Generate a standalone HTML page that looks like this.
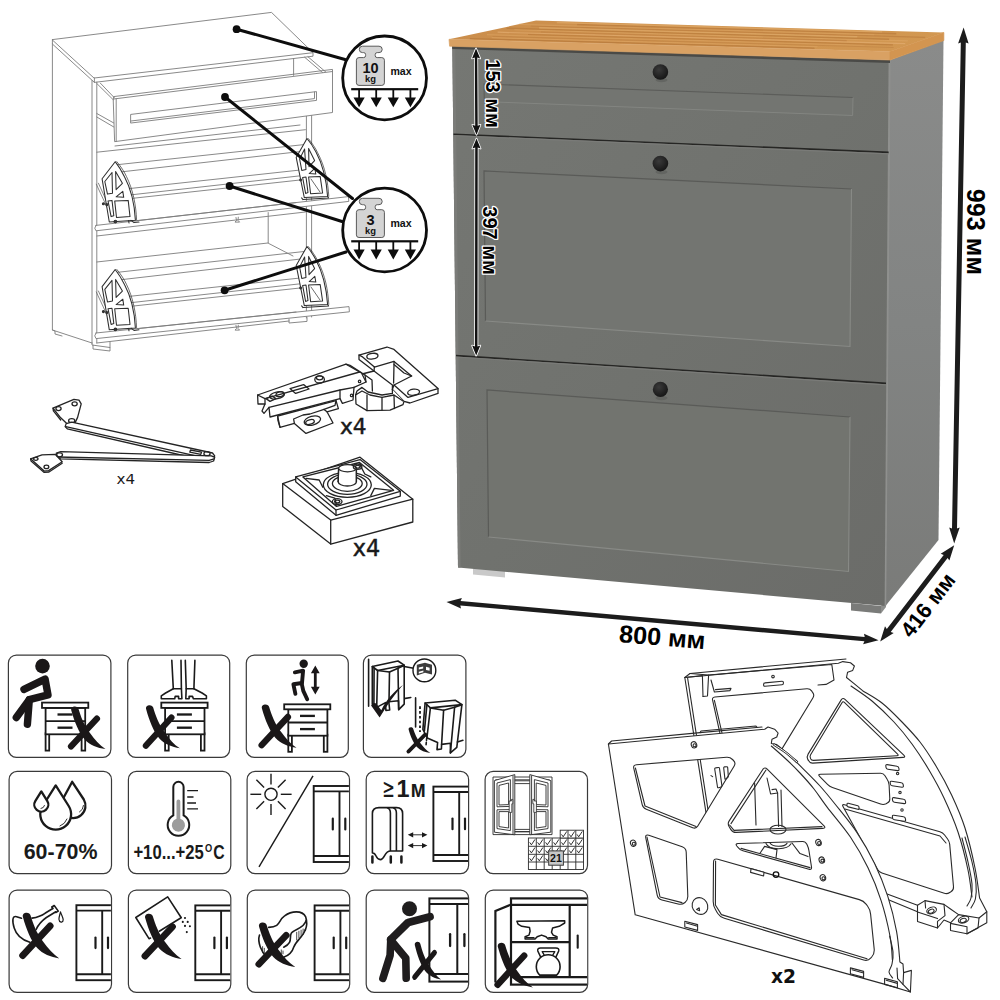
<!DOCTYPE html>
<html lang="ru"><head><meta charset="utf-8"><title>Обувница — размеры и рекомендации</title>
<style>
html,body{margin:0;padding:0;background:#fff;}
body{width:1000px;height:1000px;overflow:hidden;font-family:"Liberation Sans",sans-serif;}
svg{display:block}
.b{font-family:"Liberation Sans",sans-serif;font-weight:bold}
.dim{font-family:"Liberation Sans",sans-serif;font-weight:bold;fill:#000;stroke:#fff;stroke-width:2.6px;paint-order:stroke fill;stroke-linejoin:round}
.ln{fill:none;stroke:#7c7c7c;stroke-width:0.9;stroke-linejoin:round;stroke-linecap:round}
.ld{fill:none;stroke:#242424;stroke-width:1.3;stroke-linejoin:round;stroke-linecap:round}
.lw{fill:#fff;stroke:#242424;stroke-width:1.3;stroke-linejoin:round;stroke-linecap:round}
.ic{fill:none;stroke:#1a1a1a;stroke-width:1.6;stroke-linejoin:round;stroke-linecap:round}
.box{fill:#fff;stroke:#3a3a3a;stroke-width:1.2}
.k{fill:#1a1a1a}
</style></head><body>
<svg width="1000" height="1000" viewBox="0 0 1000 1000">
<rect width="1000" height="1000" fill="#fff"/>
<defs>
<linearGradient id="gFront" x1="0" y1="0" x2="1" y2="1">
<stop offset="0" stop-color="#757773"/><stop offset="0.5" stop-color="#70726e"/><stop offset="1" stop-color="#6b6c69"/>
</linearGradient>
<linearGradient id="gSide" x1="0" y1="0" x2="0" y2="1">
<stop offset="0" stop-color="#8a8b8a"/><stop offset="0.5" stop-color="#828483"/><stop offset="1" stop-color="#7a7b79"/>
</linearGradient>
<linearGradient id="gWood" x1="0" y1="0" x2="1" y2="0">
<stop offset="0" stop-color="#cb8e4c"/><stop offset="0.5" stop-color="#cf934f"/><stop offset="1" stop-color="#d29852"/>
</linearGradient>
<radialGradient id="gKnob" cx="0.4" cy="0.35" r="0.7">
<stop offset="0" stop-color="#3a3a3a"/><stop offset="1" stop-color="#141414"/>
</radialGradient>
</defs>
<g id="cabinet">
<!-- feet -->
<polygon points="473,568 505,571 505,577.5 473,574.5" fill="#c9c9c9"/>
<polygon points="851,603 881,606 881,613.5 851,610.5" fill="#7a7b79"/>
<polygon points="881,606 886,600 886,607 881,613.5" fill="#8d8e8c"/>
<!-- side face -->
<polygon points="890,60 943.5,40 938.5,540 885.5,606" fill="url(#gSide)"/>
<!-- front face -->
<polygon points="452.3,46 890,60 885.5,606 458,567.5" fill="url(#gFront)"/>
<!-- left light edge strip -->
<polygon points="452.3,46 455.3,46.1 460.6,567.7 458,567.5" fill="#7b7c79"/>
<!-- right front edge highlight -->
<polygon points="888.6,60 890.6,60 886.2,605.5 884.6,606" fill="#8f908e"/>
<!-- shadow under top -->
<polygon points="452,46 890,60 890,63 452.3,49" fill="#4a4a47"/>
<!-- gaps -->
<polygon points="453.5,133.5 888.6,151.6 888.6,153.2 453.5,135.1" fill="#262624"/>
<polygon points="456,354.8 886,382.6 886,384.2 456,356.4" fill="#262624"/>
<polygon points="453.5,135.1 888.6,153.2 888.6,154.4 453.5,136.3" fill="#7a7b78"/>
<polygon points="456,356.4 886,384.2 886,385.4 456,357.6" fill="#7a7b78"/>
<!-- drawer 1 panel -->
<polygon points="484,84 853,97.5 852.6,115.5 484.3,101.6" fill="#737571"/>
<polyline points="484.3,101.6 484,84 853,97.5" fill="none" stroke="#5c5d5a" stroke-width="1.1"/>
<polyline points="853,97.5 852.6,115.5 484.3,101.6" fill="none" stroke="#838581" stroke-width="1"/>
<!-- flap 2 panel -->
<polygon points="484,171 851.5,189 850,346.5 485.5,321" fill="#737571"/>
<polyline points="485.5,321 484,171 851.5,189" fill="none" stroke="#5a5b58" stroke-width="1.2"/>
<polyline points="851.5,189 850,346.5 485.5,321" fill="none" stroke="#888a86" stroke-width="1.1"/>
<!-- flap 3 panel -->
<polygon points="487,390 850,417 848.5,571.5 488.5,537" fill="#72746f"/>
<polyline points="488.5,537 487,390 850,417" fill="none" stroke="#5a5b58" stroke-width="1.2"/>
<polyline points="850,417 848.5,571.5 488.5,537" fill="none" stroke="#888a86" stroke-width="1.1"/>
<!-- knobs -->
<ellipse cx="661.5" cy="80" rx="6" ry="2.2" fill="#5a5b58" opacity="0.6"/>
<ellipse cx="661.5" cy="172" rx="6" ry="2.2" fill="#5a5b58" opacity="0.6"/>
<ellipse cx="661.5" cy="398" rx="6" ry="2.2" fill="#5a5b58" opacity="0.6"/>
<circle cx="660.4" cy="72" r="7.8" fill="url(#gKnob)"/>
<circle cx="660.4" cy="163.6" r="7.8" fill="url(#gKnob)"/>
<circle cx="660.4" cy="389.4" r="7.6" fill="url(#gKnob)"/>
<!-- wood top -->
<polygon points="449,39.3 536,20.6 943.8,32.5 890,51.5" fill="url(#gWood)"/>
<g fill="none">
<line x1="469.8" y1="38.6" x2="814.5" y2="48.2" stroke="#b5783a" stroke-width="1.4" opacity="0.7"/>
<line x1="491.7" y1="37.7" x2="817.5" y2="46.8" stroke="#e0a868" stroke-width="0.8" opacity="0.7"/>
<line x1="492.6" y1="36.3" x2="893.6" y2="47.5" stroke="#bd7f40" stroke-width="0.8" opacity="0.7"/>
<line x1="486.9" y1="34.7" x2="864.5" y2="45.2" stroke="#d9a05e" stroke-width="1.2" opacity="0.7"/>
<line x1="528.0" y1="34.5" x2="892.9" y2="44.8" stroke="#b97a3a" stroke-width="1.2" opacity="0.7"/>
<line x1="497.6" y1="32.2" x2="905.3" y2="43.7" stroke="#e2ad70" stroke-width="1.2" opacity="0.7"/>
<line x1="541.0" y1="32.0" x2="846.7" y2="40.6" stroke="#c08243" stroke-width="1.2" opacity="0.7"/>
<line x1="514.4" y1="29.7" x2="907.8" y2="40.9" stroke="#dba463" stroke-width="1.2" opacity="0.7"/>
<line x1="506.7" y1="28.2" x2="889.1" y2="39.2" stroke="#b87a3b" stroke-width="1.4" opacity="0.7"/>
<line x1="539.1" y1="27.7" x2="857.2" y2="36.8" stroke="#deaa6a" stroke-width="1.4" opacity="0.7"/>
<line x1="530.9" y1="26.0" x2="925.2" y2="37.3" stroke="#bc7e3f" stroke-width="1.2" opacity="0.7"/>
<line x1="519.0" y1="24.4" x2="874.4" y2="34.6" stroke="#d8a05e" stroke-width="1.2" opacity="0.7"/>
<line x1="577.1" y1="24.5" x2="896.3" y2="33.8" stroke="#b97b3c" stroke-width="1.4" opacity="0.7"/>
<line x1="556.8" y1="22.5" x2="882.2" y2="31.9" stroke="#dfa968" stroke-width="1.4" opacity="0.7"/>
</g>
<polygon points="449,39.3 890,51.5 890,60 449.6,46.2" fill="#d9a163" stroke="#d9a163" stroke-width="0.7"/>
<polygon points="890,51.5 943.8,32.5 943.8,40.5 890,60" fill="#d39550" stroke="#d39550" stroke-width="0.8"/>
</g>

<g id="dims">
<polygon points="963.6,27.5 958.1,43.4 960.8,42.5 952.0,528.5 949.2,527.4 954.2,543.5 959.7,527.6 957.0,528.5 965.8,42.5 968.6,43.6" fill="#1c1c1c" />
<polygon points="954.2,545.3 940.7,553.8 943.7,554.9 886.8,628.9 885.0,626.3 880.2,641.5 893.7,633.0 890.7,631.9 947.6,557.9 949.4,560.5" fill="#1c1c1c" />
<polygon points="446.5,602.0 461.0,608.6 460.3,605.4 864.4,641.3 863.1,644.2 878.5,640.3 864.0,633.7 864.7,636.9 460.6,601.0 461.9,598.1" fill="#1c1c1c" />
<polygon points="476.0,48.4 472.0,58.4 474.8,57.4 475.2,125.8 472.3,124.8 476.5,134.8 480.5,124.8 477.7,125.8 477.3,57.4 480.2,58.4" fill="#111" stroke="#fff" stroke-width="1.6" paint-order="stroke fill" stroke-linejoin="round"/>
<polygon points="476.5,138.6 472.4,148.6 475.2,147.6 475.0,346.6 472.1,345.6 476.2,355.6 480.3,345.6 477.5,346.6 477.7,147.6 480.6,148.6" fill="#111" stroke="#fff" stroke-width="1.6" paint-order="stroke fill" stroke-linejoin="round"/>
<text class="dim" transform="translate(485.6,59.3) rotate(90)" font-size="21" textLength="68.5" lengthAdjust="spacingAndGlyphs">153 мм</text>
<text class="dim" transform="translate(482.9,206.3) rotate(90)" font-size="21" textLength="68.5" lengthAdjust="spacingAndGlyphs">397 мм</text>
<text class="b" transform="translate(967,188.8) rotate(90)" font-size="26.5" fill="#000" textLength="86.2" lengthAdjust="spacingAndGlyphs">993 мм</text>
<text class="b" transform="translate(618.5,642) rotate(4.7)" font-size="24.5" fill="#000" textLength="86.5" lengthAdjust="spacingAndGlyphs">800 мм</text>
<text class="b" transform="translate(911.3,639) rotate(-52.4)" font-size="22" fill="#000" textLength="74" lengthAdjust="spacingAndGlyphs">416 мм</text>
</g>
<g id="linedraw" class="ln">
<!-- top panel -->
<polygon points="52.4,39.6 271.5,12.4 313,52.7 94.4,78" fill="#fff"/>
<polyline points="52.4,39.6 52.4,44 94.4,82.4 313,56.2 313,52.7"/>
<line x1="94.4" y1="78" x2="94.4" y2="82.4"/>
<!-- left side panel -->
<polyline points="52.4,44 52.4,330 92,343"/>
<line x1="92" y1="80.5" x2="92" y2="343"/>
<line x1="96.8" y1="82.2" x2="96.8" y2="343"/>
<!-- left foot / bottom -->
<polyline points="92,343 92,345 110,347.5 110,342"/>
<polyline points="93,345.2 93,349 110,351 110,347.5"/>
<polyline points="52.4,330 55,331 55,334 62,336"/>
<!-- right side panel front edges -->
<line x1="306.4" y1="113" x2="306.4" y2="318"/>
<line x1="311.6" y1="110" x2="311.6" y2="317"/>
<polyline points="289,319 289,323 307,321.4 307,317.5"/>
<!-- inside of drawer opening -->
<polyline points="96.8,83.5 113.5,100"/>
<polyline points="100.4,83.2 114.4,97.8"/>
<line x1="96.8" y1="113.5" x2="113.8" y2="123"/>
<line x1="96.8" y1="117" x2="113.8" y2="127"/>
<line x1="293.6" y1="58.5" x2="293.6" y2="75.4"/>
<polyline points="304.6,57.2 322.8,72.8"/>
<polyline points="308,56.8 326,72.2"/>
<!-- drawer front -->
<polygon points="113.6,99 332.5,71.5 332.5,112.5 115,141.6" fill="#fff"/>
<polyline points="113.6,99 113.6,96.6 332.5,69.4 332.5,71.5"/>
<polyline points="116.2,98.8 116.2,141.3"/>
<polygon points="131,114.4 316.5,91.6 316.5,100.4 131,123"/>
<polyline points="131,121 314.5,98.6 314.5,92"/>
<!-- rails inside upper compartments -->
<line x1="96.8" y1="152.2" x2="305.4" y2="129.7"/>
<line x1="116.4" y1="164.8" x2="304" y2="144.6"/>
<line x1="122" y1="171.8" x2="305" y2="151"/>
<line x1="129" y1="188.6" x2="309.6" y2="169"/>
<line x1="129.8" y1="195" x2="311" y2="174.6"/>
<line x1="131.8" y1="198.4" x2="300" y2="180"/>
<line x1="115" y1="146" x2="300" y2="125"/>
<!-- flap 2 strip -->
<path d="M96,225.4 L348.4,196.6 L348.8,201.4 L96,230.8 Q93.4,228.4 96,225.4 Z" fill="#fff"/>
<line x1="137" y1="220.6" x2="296" y2="202.6"/>
<path d="M236,217.5 l0.5,3 l-1.5,1.6 h4.6 l-1.6,-1.6 l0.3,-3.3"/>
<!-- compartment 3 interior -->
<line x1="96.8" y1="236" x2="305.4" y2="212"/>
<line x1="96.8" y1="262" x2="268" y2="243"/>
<polyline points="268.2,212.6 268.2,243.2 293,256"/>
<line x1="116" y1="272.5" x2="304" y2="251.5"/>
<line x1="122" y1="279.6" x2="305" y2="258.5"/>
<line x1="129" y1="296.4" x2="309.6" y2="277"/>
<line x1="129.8" y1="302.8" x2="311" y2="282.6"/>
<line x1="131.8" y1="306.2" x2="300" y2="288"/>
<!-- flap 3 strip -->
<path d="M96,333 L349,306.6 L349.4,311.8 L96,338.6 Q93.4,336 96,333 Z" fill="#fff"/>
<line x1="137" y1="328.6" x2="296" y2="312"/>
<path d="M236,325.5 l0.5,3 l-1.5,1.6 h4.6 l-1.6,-1.6 l0.3,-3.3"/>
<line x1="96.8" y1="343" x2="289" y2="321"/>
</g>
<!-- flap fittings in line drawing -->
<g id="fit-small" fill="none" stroke="#2e2e2e" stroke-width="1.05" stroke-linejoin="round" stroke-linecap="round">
<g id="fitL">
<path d="M96.3,184.2 L114.2,222.6 M98.4,183.2 L116,221.8" stroke="#6a6a6a" stroke-width="0.8"/>
<path d="M115.2,161.7 L102.1,178.8 L109.3,222 L135.4,220.2 C134.6,205 131.6,190 124.6,177 C122,171.6 118.6,166 115.2,161.7 Z" fill="#fff"/>
<path d="M116.8,161.6 C121,166.6 124.4,172 126.4,176.4 C133,189.6 136,205 136.6,220" stroke-width="0.7"/>
<path d="M104.8,181.5 L112,172.5 L112.5,193.2 L107.5,194.1 Z"/>
<path d="M115.6,171.6 L122.4,183.3 L116.1,189.6 Z"/>
<path d="M122.8,191.4 L123.7,197.3 L116.1,196.8 Z"/>
<path d="M114.7,200.9 L128.2,200.4 L130,216.6 L116.5,217.5 Z"/>
<path d="M108,200.9 L112,200.4 L113.8,215.7 L111.1,216.6 Z"/>
<circle cx="115.4" cy="221.6" r="1.3" fill="#3a3a3a"/><circle cx="103.4" cy="203.8" r="1" fill="#3a3a3a"/><circle cx="106.8" cy="204.6" r="1" fill="#3a3a3a"/>
<path d="M128.6,220.6 l0.4,2.4 M131,220.4 l3,2.2 l5,-0.6"/>
</g>
<use href="#fitL" transform="translate(0,107.8)"/>
<g id="fitR">
<path d="M307,138.5 L296.2,157.4 L304.3,197.6 L327.6,196.4 C326.6,182 324.6,168 316,152 C313.4,147 310.4,142.4 307,138.5 Z" fill="#fff"/>
<path d="M308.4,138.6 C312,143 315.4,148 317.6,152.6 C325.6,168 327.8,182 328.8,196.2" stroke-width="0.7"/>
<path d="M299.6,159 L304.6,149 L306,169.6 L301.8,170.4 Z"/>
<path d="M308.6,148.4 L314.6,160.6 L309,166.6 Z"/>
<path d="M314.8,168.4 L315.8,174 L309.2,173.6 Z"/>
<path d="M308.6,177 L320.2,176.6 L322.6,193 L310.6,193.8 Z"/>
<path d="M302.6,177.4 L306,177 L308,192.6 L305.6,193.4 Z"/>
<path d="M311,179 L320,192" stroke-width="0.7"/>
<path d="M301.6,197.9 L303,199.6 L328.6,198 L327.6,196.4"/>
<circle cx="300.6" cy="180" r="0.9" fill="#3a3a3a"/>
</g>
<use href="#fitR" transform="translate(0,108)"/>
</g>

<g id="loads">
<line x1="236.6" y1="29.2" x2="345" y2="59.5" stroke="#0d0d0d" stroke-width="3" stroke-linecap="round"/><circle cx="236.6" cy="29.2" r="3.9" fill="#0d0d0d"/>
<line x1="225" y1="97" x2="352.5" y2="198.5" stroke="#0d0d0d" stroke-width="3" stroke-linecap="round"/><circle cx="225" cy="97" r="3.9" fill="#0d0d0d"/>
<line x1="229.6" y1="186" x2="342" y2="221.5" stroke="#0d0d0d" stroke-width="3" stroke-linecap="round"/><circle cx="229.6" cy="186" r="3.9" fill="#0d0d0d"/>
<line x1="224.6" y1="290.3" x2="346" y2="252" stroke="#0d0d0d" stroke-width="3" stroke-linecap="round"/><circle cx="224.6" cy="290.3" r="3.9" fill="#0d0d0d"/>
<g transform="translate(0,0.0)">
<circle cx="384.6" cy="77.9" r="41.9" fill="#fff" stroke="#0d0d0d" stroke-width="2.8"/>
<path d="M362.5,46.2 h16.5 a3.2,3.2 0 0 1 0,6.4 h-1.8 a2,2 0 0 0 -2,2 v1 a2,2 0 0 0 2,2 h4.6 a2.6,2.6 0 0 1 2.6,2.6 v22.6 a2.6,2.6 0 0 1 -2.6,2.6 h-22.8 a2.6,2.6 0 0 1 -2.6,-2.6 v-22.6 a2.6,2.6 0 0 1 2.6,-2.6 h4.6 a2,2 0 0 0 2,-2 v-1 a2,2 0 0 0 -2,-2 h-1.1 a3.2,3.2 0 0 1 0,-6.4 z" fill="#d4d4d4" stroke="#5a5a5a" stroke-width="1"/>
<text class="b" x="370.6" y="73.2" font-size="14.5" text-anchor="middle" fill="#111">10</text>
<text class="b" x="370.4" y="81.6" font-size="9.4" text-anchor="middle" fill="#111">kg</text>
<text class="b" x="401" y="74.8" font-size="10.6" text-anchor="middle" fill="#111">max</text>
<rect x="351.2" y="88.1" width="67" height="2.2" fill="#0d0d0d"/>
<path d="M358.20000000000005,89 h1.8 v8.4 h4.7 l-5.6,9.9 l-5.6,-9.9 h4.7 z" fill="#0d0d0d"/>
<path d="M375.3,89 h1.8 v8.4 h4.7 l-5.6,9.9 l-5.6,-9.9 h4.7 z" fill="#0d0d0d"/>
<path d="M392.40000000000003,89 h1.8 v8.4 h4.7 l-5.6,9.9 l-5.6,-9.9 h4.7 z" fill="#0d0d0d"/>
<path d="M409.5,89 h1.8 v8.4 h4.7 l-5.6,9.9 l-5.6,-9.9 h4.7 z" fill="#0d0d0d"/>
</g>
<g transform="translate(0,152.1)">
<circle cx="384.6" cy="77.9" r="41.9" fill="#fff" stroke="#0d0d0d" stroke-width="2.8"/>
<path d="M362.5,46.2 h16.5 a3.2,3.2 0 0 1 0,6.4 h-1.8 a2,2 0 0 0 -2,2 v1 a2,2 0 0 0 2,2 h4.6 a2.6,2.6 0 0 1 2.6,2.6 v22.6 a2.6,2.6 0 0 1 -2.6,2.6 h-22.8 a2.6,2.6 0 0 1 -2.6,-2.6 v-22.6 a2.6,2.6 0 0 1 2.6,-2.6 h4.6 a2,2 0 0 0 2,-2 v-1 a2,2 0 0 0 -2,-2 h-1.1 a3.2,3.2 0 0 1 0,-6.4 z" fill="#d4d4d4" stroke="#5a5a5a" stroke-width="1"/>
<text class="b" x="370.6" y="73.2" font-size="14.5" text-anchor="middle" fill="#111">3</text>
<text class="b" x="370.4" y="81.6" font-size="9.4" text-anchor="middle" fill="#111">kg</text>
<text class="b" x="401" y="74.8" font-size="10.6" text-anchor="middle" fill="#111">max</text>
<rect x="351.2" y="88.1" width="67" height="2.2" fill="#0d0d0d"/>
<path d="M358.20000000000005,89 h1.8 v8.4 h4.7 l-5.6,9.9 l-5.6,-9.9 h4.7 z" fill="#0d0d0d"/>
<path d="M375.3,89 h1.8 v8.4 h4.7 l-5.6,9.9 l-5.6,-9.9 h4.7 z" fill="#0d0d0d"/>
<path d="M392.40000000000003,89 h1.8 v8.4 h4.7 l-5.6,9.9 l-5.6,-9.9 h4.7 z" fill="#0d0d0d"/>
<path d="M409.5,89 h1.8 v8.4 h4.7 l-5.6,9.9 l-5.6,-9.9 h4.7 z" fill="#0d0d0d"/>
</g>
</g>
<g id="icons-row1">
<defs><symbol id="xm" overflow="visible"><path d="M3.1,3.8 C2.3,1 4.6,-0.5 6.8,-0.5 C9,-0.5 10.2,0.6 10.7,2 C13.2,10 16.4,19.6 23.6,28.8 C28,34.8 33,41 39.5,45.1 C31,43.9 22.8,40.6 17.4,34.8 C11.2,27.8 6.3,15.4 3.1,3.8 Z" fill="#1a1718"/><line x1="30.4" y1="12.6" x2="2.8" y2="42.3" stroke="#1a1718" stroke-width="6.7" stroke-linecap="round"/></symbol></defs>
<rect class="box" x="8.4" y="655.1" width="102.5" height="102.2" rx="8" ry="8"/>
<g fill="#fff" stroke="#1a1a1a" stroke-width="1.8" stroke-linejoin="miter"><rect x="45.6" y="733.3" width="3.6" height="17.3"/><rect x="81.6" y="733.3" width="3.6" height="17.3"/><rect x="45.6" y="707.9" width="39.6" height="26.4"/><line x1="45.6" y1="721.1" x2="85.2" y2="721.1"/><rect x="42.0" y="702.6" width="46.3" height="5.3"/><line x1="57.5" y1="714.5" x2="72.5" y2="714.5" stroke-width="2.34"/><line x1="57.5" y1="727.7" x2="72.5" y2="727.7" stroke-width="2.34"/></g>
<g fill="none" stroke="#1a1718" stroke-linecap="round" stroke-linejoin="round">
<circle cx="42.5" cy="666.1" r="7.3" fill="#1a1718" stroke="none"/>
<polyline points="24.0,689.4 45.1,679.1 48.0,694.9 29.3,699.7 16.3,717.5" stroke-width="7.4"/>
<polyline points="29.3,699.7 27.4,724.2" stroke-width="7.4"/>
</g>
<g transform="translate(68.4,706.9) scale(0.938,0.935)"><use href="#xm"/></g>
<rect class="box" x="127.7" y="655.1" width="102" height="102.2" rx="8" ry="8"/>
<g fill="#fff" stroke="#1a1a1a" stroke-width="1.8" stroke-linejoin="miter"><rect x="165.1" y="733.3" width="3.6" height="17.3"/><rect x="200.9" y="733.3" width="3.6" height="17.3"/><rect x="165.1" y="707.9" width="39.4" height="26.4"/><line x1="165.1" y1="721.1" x2="204.5" y2="721.1"/><rect x="161.3" y="702.6" width="46.3" height="5.3"/><line x1="176.9" y1="714.5" x2="191.9" y2="714.5" stroke-width="2.34"/><line x1="176.9" y1="727.7" x2="191.9" y2="727.7" stroke-width="2.34"/></g>
<g class="ic" stroke-width="1.5" fill="#fff">
<path d="M171.8 660.4 L173.3 688.7 L165.6 693.0 L161.3 695.9 L161.3 698.8 L174.7 698.8 L175.2 696.4 L178.6 696.4 L178.6 698.8 L181.9 698.8 L181.4 688.7 L181.0 660.4"/>
<path d="M185.3 660.4 L186.2 688.7 L185.8 698.8 L189.1 698.8 L189.1 696.4 L192.5 696.4 L193.4 698.8 L206.4 698.8 L206.4 695.9 L202.1 693.0 L193.9 688.7 L194.9 660.4"/>
<path d="M173.3 688.7 L181.4 688.7 M186.2 688.7 L193.9 688.7"/>
</g>
<g transform="translate(143.3,705.7) scale(0.925,0.946)"><use href="#xm"/></g>
<rect class="box" x="246.3" y="655.1" width="102" height="102.2" rx="8" ry="8"/>
<g fill="#fff" stroke="#1a1a1a" stroke-width="1.8" stroke-linejoin="miter"><rect x="288.3" y="734.7" width="3.6" height="17.1"/><rect x="323.8" y="734.7" width="3.6" height="17.1"/><rect x="288.3" y="709.3" width="39.1" height="26.4"/><line x1="288.3" y1="722.5" x2="327.4" y2="722.5"/><rect x="284.2" y="704.3" width="46.1" height="5.0"/><line x1="300.0" y1="715.9" x2="314.9" y2="715.9" stroke-width="2.34"/><line x1="300.0" y1="729.1" x2="314.9" y2="729.1" stroke-width="2.34"/></g>
<g fill="none" stroke="#1a1718" stroke-linecap="round" stroke-linejoin="round">
<circle cx="303.7" cy="663.8" r="4.2" fill="#1a1718" stroke="none"/>
<polyline points="294.9,672.3 303.1,670.7 302.0,683.0 293.4,684.3 295.4,693.8" stroke-width="3.9"/>
<polyline points="301.7,683.7 303.3,690.9 307.2,699.3" stroke-width="3.9"/>
</g>
<path d="M315.3,665.4 l4.4,7.8 h-3 v13.6 h3 l-4.4,7.8 l-4.4,-7.8 h3 v-13.6 h-3 z" fill="#1a1718"/>
<g transform="translate(259.0,705.0) scale(0.950,0.950)"><use href="#xm"/></g>
<rect class="box" x="363.4" y="655.1" width="102.5" height="102.2" rx="8" ry="8"/>
<g class="ic" stroke-width="1.15">
<path d="M368.6 659.4 L368.6 706.3" />
<path d="M404.0 698.6 L410.8 697.5" />
<path d="M372.3 666.5 L398.0 661.0 L404.2 665.2 L404.2 704.1 L398.7 709.6 L398.5 700.8 L388.8 701.7 L389.7 710.0 L385.9 710.5 L385.5 702.6 L376.7 707.4 L372.3 704.1 Z" fill="#fff"/>
<path d="M372.3 666.5 L377.6 670.5 L404.2 665.2" />
<path d="M377.6 670.5 L376.7 707.4" />
<path d="M377.6 670.5 L389.5 672.0 L389.0 701.7" />
<path d="M374.1 668.2 L373.9 704.8" />
<path d="M398.0 668.2 L398.7 709.6" />
<path d="M398.0 668.2 L404.0 665.6" />
<path d="M389.5 672.0 L398.0 668.2" />
<path d="M404.2 666.5 L413.5 668.3" />
<circle cx="424.4" cy="670.4" r="11.4" fill="#fff" stroke-width="1.4"/>
<path d="M416.8,664.8 l8.2,-2 l7,2 v9.6 l-7,-1.6 l-8.2,2.6 z" fill="#3c3c3c" stroke="none"/>
<path d="M418.8,667.4 l4.4,-1 v2.2 l-4.4,1 z M426.0,666.8 l3.6,1 v3 l-3.6,-0.8 z M418.8,671.8 l4.6,-1.2 v1.6 l-4.6,1.4 z" fill="#fff" stroke="none"/>
<path d="M415.6 697.9 L415.6 727.0" />
<path d="M420.0 706.3 L420.0 732.0" stroke-dasharray="2.6 2.2" stroke-width="1.8" stroke-linecap="butt"/>
<path d="M425.1 703.0 L455.2 700.2 L461.9 704.6 L456.8 747.4 L450.4 752.9 L450.4 743.3 L441.6 744.4 L441.4 749.0 L437.0 749.6 L437.6 742.4 L427.3 738.0 L422.9 729.4 Z" fill="#fff"/>
<path d="M425.1 703.0 L430.4 707.9 L461.9 704.6" />
<path d="M430.4 707.9 L426.9 738.0" />
<path d="M430.4 707.9 L443.6 710.3 L441.6 744.4" />
<path d="M426.9 704.8 L424.4 730.9" />
<path d="M454.6 707.2 L450.4 752.9" />
<path d="M454.6 707.2 L461.4 705.0" />
<path d="M443.6 710.3 L454.6 707.2" />
<path d="M427.1 733.6 L426.0 745.7" stroke-dasharray="2.4 2" />
<path d="M457.4 741.9 L462.9 740.2" />
</g>
<path d="M371.1 705.6 C372.3 703.4 374.9 702.1 376.5 703.9 L381.3 710.3 C386.4 699.5 394.1 691.3 402.9 685.0 C395.2 693.8 387.0 705.0 379.6 717.5 Z" fill="#1a1718"/>
<g transform="translate(406.8,727.6) scale(0.597,0.565)"><use href="#xm"/></g>
</g>
<g id="icons-row2">
<defs><clipPath id="c20"><rect x="9.7" y="772.0" width="101.2" height="101.1" rx="7.4" ry="7.4"/></clipPath><clipPath id="c21"><rect x="129.0" y="772.0" width="101.2" height="101.1" rx="7.4" ry="7.4"/></clipPath><clipPath id="c22"><rect x="247.7" y="772.0" width="101.2" height="101.1" rx="7.4" ry="7.4"/></clipPath><clipPath id="c23"><rect x="366.8" y="772.0" width="101.2" height="101.1" rx="7.4" ry="7.4"/></clipPath><clipPath id="c24"><rect x="485.70000000000005" y="772.0" width="101.2" height="101.1" rx="7.4" ry="7.4"/></clipPath></defs>
<rect class="box" x="9.1" y="771.4" width="102.4" height="102.2" rx="8" ry="8"/>
<rect class="box" x="128.4" y="771.4" width="102.4" height="102.2" rx="8" ry="8"/>
<rect class="box" x="247.1" y="771.4" width="102.4" height="102.2" rx="8" ry="8"/>
<rect class="box" x="366.2" y="771.4" width="102.4" height="102.2" rx="8" ry="8"/>
<rect class="box" x="485.1" y="771.4" width="102.4" height="102.2" rx="8" ry="8"/>
<g fill="#fff" stroke="#1a1a1a" stroke-width="2.3" stroke-linejoin="round">
<path d="M72.2,781.8 L62.6,799.5 A12.3,12.3 0 1 0 83.8,799.5 Z"/>
<path d="M55.7,785.4 L42.7,806.0 A15.4,15.4 0 1 0 68.7,806.0 Z"/>
<path d="M41.3,791.4 L35.4,800.9 A7.0,7.0 0 1 0 47.2,800.9 Z"/>
</g>
<path d="M79.5,812 a8,8 0 0 0 4,-6.5 M60,826 a12,12 0 0 0 7,-7 M41,808.5 a4,4 0 0 0 3.5,-3" fill="none" stroke="#1a1a1a" stroke-width="0.9" stroke-linecap="round"/>
<text class="b" x="60.6" y="858.6" font-size="21.4" text-anchor="middle" fill="#1a1a1a">60-70%</text>
<path d="M173.3,787 a5.15,5.15 0 0 1 10.3,0 v28.4 a10.8,10.8 0 1 1 -10.3,0 z" fill="#fff" stroke="#1a1a1a" stroke-width="2"/>
<path d="M176.5,801.5 a1.9,1.9 0 0 1 3.8,0 v17.3 a6.6,6.6 0 1 1 -3.8,0 z" fill="#9c9c9c"/>
<path d="M187.2,790.7 H198 M187.2,797 H193.5 M187.2,803 H196 M187.2,808.8 H198" stroke="#1a1a1a" stroke-width="1.3" fill="none"/>
<text class="b" x="133.4" y="858.6" font-size="20" fill="#1a1a1a" textLength="70.4" lengthAdjust="spacingAndGlyphs">+10...+25</text>
<text class="b" x="205" y="852.2" font-size="10.4" fill="#1a1a1a" textLength="7.2" lengthAdjust="spacingAndGlyphs">O</text>
<text class="b" x="213.2" y="858.6" font-size="20" fill="#1a1a1a" textLength="11.4" lengthAdjust="spacingAndGlyphs">C</text>
<g fill="none" stroke="#1a1a1a" stroke-width="1.4" stroke-linecap="butt"><circle cx="271" cy="794.3" r="6.1"/>
<line x1="280.8" y1="794.3" x2="291.6" y2="794.3"/>
<line x1="277.9" y1="801.2" x2="285.6" y2="808.9"/>
<line x1="271.0" y1="804.1" x2="271.0" y2="814.9"/>
<line x1="264.1" y1="801.2" x2="256.4" y2="808.9"/>
<line x1="261.2" y1="794.3" x2="250.4" y2="794.3"/>
<line x1="264.1" y1="787.4" x2="256.4" y2="779.7"/>
<line x1="271.0" y1="784.5" x2="271.0" y2="773.7"/>
<line x1="277.9" y1="787.4" x2="285.6" y2="779.7"/>
<line x1="313" y1="775.8" x2="259" y2="866.8"/></g>
<g clip-path="url(#c22)" fill="none" stroke="#1a1a1a" stroke-width="1.9"><rect x="313.7" y="786.0" width="80" height="76.0" fill="#fff"/><line x1="313.7" y1="791.4" x2="393.7" y2="791.4"/><line x1="313.7" y1="856.0" x2="393.7" y2="856.0"/><line x1="339.5" y1="791.4" x2="339.5" y2="856.0"/><line x1="332.8" y1="818.7" x2="332.8" y2="829.5" stroke-width="2.18" stroke-linecap="round"/><line x1="345.3" y1="818.7" x2="345.3" y2="829.5" stroke-width="2.18" stroke-linecap="round"/></g>
<text x="382.2" y="797.4" fill="#1a1a1a" font-size="23.4"><tspan font-family="'DejaVu Sans','Liberation Sans',sans-serif" font-size="26" font-weight="normal" textLength="12.6" lengthAdjust="spacingAndGlyphs">≥</tspan><tspan class="b" x="396.6">1</tspan><tspan class="b" x="410.4" textLength="15.4" lengthAdjust="spacingAndGlyphs">м</tspan></text>
<g fill="none" stroke="#1a1a1a" stroke-width="1.6" stroke-linejoin="round">
<path d="M372.4,853 V813.6 Q372.4,807.6 379,807.6 H396.6 Q402.6,807.6 402.6,813.6 V851 H390.6 C384,851 385,859.6 380.4,859.6 C375,859.6 377,852.6 372.4,853 Z" fill="#fff"/>
<path d="M387,807.8 Q390.4,808.6 390.4,813 V851 M393,807.8 Q396.4,808.6 396.4,813 V851"/>
<path d="M372.4,856.6 V862.4 M390.8,856.6 V862.4 M401.4,856.6 V862.4" stroke-width="2.5" stroke-linecap="round"/>
</g>
<path d="M411,834.8 H424.4" stroke="#1a1a1a" stroke-width="0.9"/><path d="M407.8,834.8 l5.4,-2.6 v5.2 z M427.4,834.8 l-5.4,-2.6 v5.2 z" fill="#1a1a1a"/>
<path d="M411,845.6 H424.4" stroke="#1a1a1a" stroke-width="0.9"/><path d="M407.8,845.6 l5.4,-2.6 v5.2 z M427.4,845.6 l-5.4,-2.6 v5.2 z" fill="#1a1a1a"/>
<g clip-path="url(#c23)" fill="none" stroke="#1a1a1a" stroke-width="1.9"><rect x="433.4" y="786.6" width="80" height="74.4" fill="#fff"/><line x1="433.4" y1="792.0" x2="513.4" y2="792.0"/><line x1="433.4" y1="855.0" x2="513.4" y2="855.0"/><line x1="459.2" y1="792.0" x2="459.2" y2="855.0"/><line x1="452.5" y1="818.6" x2="452.5" y2="829.2" stroke-width="2.18" stroke-linecap="round"/><line x1="465.0" y1="818.6" x2="465.0" y2="829.2" stroke-width="2.18" stroke-linecap="round"/></g>
<g fill="none" stroke="#2a2a2a" stroke-width="0.9" stroke-linejoin="round">
<rect x="493" y="777" width="59" height="57.6"/><rect x="495.6" y="779.8" width="53.8" height="52"/>
<path d="M514,780.8 H530.6 M514,783.6 H530.6 M514,829.4 H530.6 M514,831.6 H530.6"/>
<path d="M494.4,780.6 L514.8,774.6 V834.8 L494.4,832.2 Z" fill="#fff"/><path d="M513,775.4 V834.4"/>
<path d="M497,783 L510.4,779.6 V806.4 L497,806.8 Z M497,809.8 L510.4,809.6 V830.6 L497,828.6 Z"/>
<path d="M499,785.4 L508.6,783 V804.6 L499,805 Z M499,811.6 L508.6,811.6 V828 L499,826.6 Z"/>
<path d="M550.8,780.6 L529.8,774.6 V834.8 L550.8,832.2 Z" fill="#fff"/><path d="M531.6,775.4 V834.4"/>
<path d="M548,783 L534.4,779.6 V806.4 L548,806.8 Z M548,809.8 L534.4,809.6 V830.6 L548,828.6 Z"/>
<path d="M546,785.4 L536.2,783 V804.6 L546,805 Z M546,811.6 L536.2,811.6 V828 L546,826.6 Z"/>
<path d="M509.2,801 h2.2 v-1.6 h1.4 v4.4 h-1 v8.6 h-2.6 z M536.4,801 h-2.2 v-1.6 h-1.4 v4.4 h1 v8.6 h2.6 z" fill="#fff" stroke-width="0.8"/>
</g>
<g fill="#fff" stroke="#2a2a2a" stroke-width="0.9">
<rect x="528.4" y="838" width="55.1" height="31.5"/>
<rect x="560.2" y="830.2" width="23.3" height="7.8"/>
<path d="M536.3,838 V869.5 M544.2,838 V869.5 M552.2,838 V869.5 M560.2,838 V869.5 M568,838 V869.5 M575.8,838 V869.5 M528.4,846.3 H583.5 M528.4,854.3 H583.5 M528.4,862 H583.5 M568,830.2 V838 M575.8,830.2 V838" fill="none"/>
</g>
<path d="M561.5,834.4 l1.7,2.4 l3.6,-5.4 M569.3,834.4 l1.7,2.4 l3.6,-5.4 M577.0,834.4 l1.7,2.4 l3.6,-5.4 M529.7,842.4 l1.7,2.4 l3.6,-5.4 M537.6,842.4 l1.7,2.4 l3.6,-5.4 M545.6,842.4 l1.7,2.4 l3.6,-5.4 M553.6,842.4 l1.7,2.4 l3.6,-5.4 M561.5,842.4 l1.7,2.4 l3.6,-5.4 M569.3,842.4 l1.7,2.4 l3.6,-5.4 M577.0,842.4 l1.7,2.4 l3.6,-5.4 M529.7,850.5 l1.7,2.4 l3.6,-5.4 M537.6,850.5 l1.7,2.4 l3.6,-5.4 M545.6,850.5 l1.7,2.4 l3.6,-5.4 M553.6,850.5 l1.7,2.4 l3.6,-5.4 M561.5,850.5 l1.7,2.4 l3.6,-5.4 M569.3,850.5 l1.7,2.4 l3.6,-5.4 M577.0,850.5 l1.7,2.4 l3.6,-5.4 M529.7,858.4 l1.7,2.4 l3.6,-5.4 M537.6,858.4 l1.7,2.4 l3.6,-5.4 M545.6,858.4 l1.7,2.4 l3.6,-5.4" fill="none" stroke="#1a1a1a" stroke-width="0.9"/>
<rect x="548.7" y="850.9" width="14.7" height="14.3" fill="#c8c8c8" stroke="#3a3a3a" stroke-width="1"/>
<text class="b" x="556" y="862.2" font-size="10.6" text-anchor="middle" fill="#111">21</text>
</g>
<g id="icons-row3">
<defs><clipPath id="c30"><rect x="9.7" y="890.7" width="101.2" height="101.1" rx="7.4" ry="7.4"/></clipPath><clipPath id="c31"><rect x="129.0" y="890.7" width="101.2" height="101.1" rx="7.4" ry="7.4"/></clipPath><clipPath id="c32"><rect x="247.9" y="890.7" width="101.2" height="101.1" rx="7.4" ry="7.4"/></clipPath><clipPath id="c33"><rect x="366.8" y="890.7" width="101.2" height="101.1" rx="7.4" ry="7.4"/></clipPath><clipPath id="c34"><rect x="485.90000000000003" y="890.7" width="101.2" height="101.1" rx="7.4" ry="7.4"/></clipPath></defs>
<rect class="box" x="9.1" y="890.1" width="102.4" height="102.2" rx="8" ry="8"/>
<rect class="box" x="128.4" y="890.1" width="102.4" height="102.2" rx="8" ry="8"/>
<rect class="box" x="247.3" y="890.1" width="102.4" height="102.2" rx="8" ry="8"/>
<rect class="box" x="366.2" y="890.1" width="102.4" height="102.2" rx="8" ry="8"/>
<rect class="box" x="485.3" y="890.1" width="102.4" height="102.2" rx="8" ry="8"/>
<g clip-path="url(#c30)" fill="none" stroke="#1a1a1a" stroke-width="1.9"><rect x="76.4" y="905.2" width="80" height="75.0" fill="#fff"/><line x1="76.4" y1="910.6" x2="156.4" y2="910.6"/><line x1="76.4" y1="974.2" x2="156.4" y2="974.2"/><line x1="102.2" y1="910.6" x2="102.2" y2="974.2"/><line x1="95.5" y1="937.5" x2="95.5" y2="948.1" stroke-width="2.18" stroke-linecap="round"/><line x1="108.0" y1="937.5" x2="108.0" y2="948.1" stroke-width="2.18" stroke-linecap="round"/></g>
<g class="ic" stroke-width="1.3">
<path d="M21.5 918.3 L16.6 916.7 C12.1 915.5 12.1 921.0 14.2 928.0 C16.3 935.0 21.9 939.9 29.9 942.3"/>
<path d="M32.0 918.1 Q40.1 916.8 45.0 913.3 L52.8 908.5"/>
<path d="M36.2 929.4 Q39.4 922.4 46.4 917.5 L55.8 911.8"/>
<path d="M52.0 907.0 L54.2 905.5 L58.3 911.1 L55.8 912.5"/>
<path d="M52.8 908.5 L52.0 907.0"/>
<path d="M60.5 911.9 C59.0 917.5 57.6 921.0 61.2 922.3 C65.3 921.0 62.1 916.8 60.5 911.9 Z" stroke-width="1.2"/>
</g>
<g transform="translate(19.8,913.3) scale(1.000,1.000)"><use href="#xm"/></g>
<g clip-path="url(#c31)" fill="none" stroke="#1a1a1a" stroke-width="1.9"><rect x="195.3" y="905.4" width="80" height="74.8" fill="#fff"/><line x1="195.3" y1="910.8" x2="275.3" y2="910.8"/><line x1="195.3" y1="974.2" x2="275.3" y2="974.2"/><line x1="221.1" y1="910.8" x2="221.1" y2="974.2"/><line x1="214.4" y1="937.6" x2="214.4" y2="948.2" stroke-width="2.18" stroke-linecap="round"/><line x1="226.9" y1="937.6" x2="226.9" y2="948.2" stroke-width="2.18" stroke-linecap="round"/></g>
<g class="ic" stroke-width="1.3">
<path d="M150.5 938.0 L149.0 938.7 L135.8 917.5 L167.7 896.9 L181.1 917.5"/>
<path d="M181.1 917.7 L159.3 931.2"/>
</g>
<circle cx="185.0" cy="918.0" r="1.05" fill="#1a1a1a"/>
<circle cx="182.8" cy="921.9" r="1.05" fill="#1a1a1a"/>
<circle cx="187.7" cy="921.9" r="1.05" fill="#1a1a1a"/>
<circle cx="185.0" cy="925.9" r="1.05" fill="#1a1a1a"/>
<circle cx="189.9" cy="926.3" r="1.05" fill="#1a1a1a"/>
<circle cx="186.8" cy="932.1" r="1.05" fill="#1a1a1a"/>
<g transform="translate(142.1,914.2) scale(1.000,0.991)"><use href="#xm"/></g>
<g clip-path="url(#c32)" fill="none" stroke="#1a1a1a" stroke-width="1.9"><rect x="314.6" y="905.4" width="80" height="74.8" fill="#fff"/><line x1="314.6" y1="910.8" x2="394.6" y2="910.8"/><line x1="314.6" y1="974.2" x2="394.6" y2="974.2"/><line x1="340.4" y1="910.8" x2="340.4" y2="974.2"/><line x1="333.7" y1="937.6" x2="333.7" y2="948.2" stroke-width="2.18" stroke-linecap="round"/><line x1="346.2" y1="937.6" x2="346.2" y2="948.2" stroke-width="2.18" stroke-linecap="round"/></g>
<g class="ic" stroke-width="2.1">
<path d="M268.7 927.4 C281.3 926.8 278.0 920.2 284.6 915.8 C291.2 910.9 302.2 909.8 305.7 916.9 C307.2 921.3 306.6 926.8 305.3 930.1"/>
<path d="M306.2 920.2 C304.4 929.0 293.4 929.0 291.2 933.4 C289.0 937.8 293.4 942.2 283.7 947.2" />
<path d="M305.3 929.6 C303.3 936.7 296.7 940.0 294.0 946.6 C292.3 952.1 289.0 955.4 284.1 957.1" />
<path d="M259.5 935.1 C257.1 942.2 261.5 952.1 267.0 957.6" />
<path d="M296.7 932.3 L296.7 940.0 M298.9 931.2 L298.9 937.8 M301.1 930.1 L301.1 936.7 M303.1 929.0 L303.1 934.5 M262.6 946.6 L262.6 952.1 M264.3 948.3 L264.3 952.7 M281.3 949.9 L281.3 954.3 M283.0 951.0 L283.0 953.8" stroke-width="0.8"/>
</g>
<g transform="translate(256.0,923.0) scale(0.995,0.974)"><use href="#xm"/></g>
<g clip-path="url(#c33)" fill="none" stroke="#1a1a1a" stroke-width="2.0"><rect x="429.4" y="898.4" width="80" height="83.2" fill="#fff"/><line x1="429.4" y1="903.9" x2="509.4" y2="903.9"/><line x1="429.4" y1="973.9" x2="509.4" y2="973.9"/><line x1="457.3" y1="903.9" x2="457.3" y2="973.9"/><line x1="450.1" y1="934.2" x2="450.1" y2="946.0" stroke-width="2.30" stroke-linecap="round"/><line x1="464.4" y1="934.2" x2="464.4" y2="946.0" stroke-width="2.30" stroke-linecap="round"/></g>
<g fill="none" stroke="#1f1d1e" stroke-linecap="round" stroke-linejoin="round">
<circle cx="409.5" cy="908.7" r="7.5" fill="#1f1d1e" stroke="none"/>
<polyline points="430.0,916.7 408.2,922.4 390.8,939.5" stroke-width="7.8"/>
<polyline points="390.8,939.5 390.1,955.4 382.9,978.3" stroke-width="7.6"/>
<polyline points="391.7,941.1 405.8,958.2 406.2,978.3" stroke-width="7.6"/>
</g>
<g transform="translate(412.6,942.2) scale(0.720,0.826)"><use href="#xm"/></g>
<g clip-path="url(#c34)" fill="none" stroke="#1a1a1a" stroke-width="2.2" stroke-linejoin="miter">
<rect x="511" y="898.4" width="90" height="86.2" fill="#fff"/>
<path d="M511,904.8 H600 M511,977.2 H600 M569.7,904.8 V977.2 M511,942.2 H569.7"/>
<path d="M577.7,935.6 V947.7" stroke-width="2.1" stroke-linecap="round"/>
<path d="M511,904.6 L495.4,910.9 V982.4" />
<path d="M516.9 921.3 L564.7 920.8 L564.7 923.0 L559.2 926.3 L552.6 927.9 L551.5 932.3 L553.2 935.1 L557.0 936.7 L557.0 939.1 L548.2 939.1 L546.0 936.7 L541.6 935.1 L537.2 936.7 L535.0 939.1 L525.1 939.1 L525.1 936.7 L529.0 935.1 L530.1 931.2 L529.5 927.4 L521.8 926.3 L518.0 924.1 Z" fill="#fff" stroke-width="1.5" stroke-linejoin="round"/>
<path d="M525.7 937.6 H534.5 M548.2 937.6 H556.5" stroke-width="1.2"/>
<path d="M540.7 957.1 L537.8 951.0 Q537.2 947.9 540.5 947.9 L555.9 947.9 Q559.4 947.9 558.7 951.0 L555.9 957.1" fill="#fff" stroke-width="1.5"/>
<path d="M544.4 955.4 L542.2 951.6 L554.8 951.6 L552.6 955.4" stroke-width="1.3" stroke-linejoin="round"/>
<path d="M539.8,975.1 A11.9,11.9 0 1 1 556.6,975.1 Z" fill="#fff" stroke-width="1.6"/>
</g>
<g transform="translate(494.9,943.3) scale(0.963,0.978)"><use href="#xm"/></g>
</g>
<g id="hardware">
<path class="lw" d="M277.6 416.0 L336.0 400.6 L338.4 408.6 L327.0 411.8 L333.0 423.0 L306.0 433.4 L294.4 423.4 L280.0 427.4 Z" />
<path class="ld" d="M277.6 416.0 L278.0 420.6 L280.0 427.4" />
<path class="ld" d="M294.4 423.4 L293.6 419.0 L303.0 415.0 L310.0 414.0 L324.0 409.4 L327.0 411.8" />
<path class="ld" d="M336.0 400.6 L335.0 405.4 L324.0 409.4" />
<ellipse class="ld" cx="312.4" cy="420.6" rx="8.4" ry="4.4" transform="rotate(-15 312.4 420.6)" />
<ellipse class="ld" cx="310.0" cy="422.0" rx="4.4" ry="2.2" transform="rotate(-15 310.0 422.0)" />
<path class="lw" d="M257.6 395.0 L346.0 364.2 L359.6 372.0 L365.0 375.0 L366.0 382.0 L354.0 387.4 L353.0 400.0 L342.4 403.4 L340.0 398.6 L270.0 417.0 L269.0 407.4 L264.0 413.4 L262.0 411.0 L265.0 404.0 L258.0 404.0 Z" />
<path class="ld" d="M257.6 395.0 L265.0 398.6 L359.6 372.0" />
<path class="ld" d="M265.0 398.6 L265.0 404.0" />
<path class="ld" d="M269.0 407.4 L340.0 390.0 L354.0 387.4" />
<path class="ld" d="M340.0 390.0 L340.0 398.6" />
<path class="ld" d="M346.0 364.2 L350.0 365.4 L362.0 373.0" />
<path class="ld" d="M290.0 388.6 L303.6 384.6 L309.0 389.0 L295.6 393.4 Z" />
<ellipse class="ld" cx="319.6" cy="379.4" rx="4.8" ry="3.6" transform="rotate(0 319.6 379.4)" />
<ellipse class="ld" cx="319.6" cy="377.8" rx="3.2" ry="2.0" transform="rotate(0 319.6 377.8)" />
<ellipse class="ld" cx="277.0" cy="395.4" rx="7.6" ry="3.4" transform="rotate(-12 277.0 395.4)" />
<ellipse class="ld" cx="280.0" cy="394.2" rx="4.0" ry="2.4" transform="rotate(-12 280.0 394.2)" />
<path class="ld" d="M266.0 398.6 L272.0 396.0 L276.0 398.6 L270.0 401.4 Z" />
<ellipse class="ld" cx="359.6" cy="381.4" rx="1.2" ry="1.2" transform="rotate(0 359.6 381.4)" />
<ellipse class="ld" cx="351.6" cy="395.4" rx="1.2" ry="1.2" transform="rotate(0 351.6 395.4)" />
<path class="lw" d="M359.0 355.0 L387.0 347.0 L394.0 349.4 L438.0 388.6 L438.0 393.4 L410.0 403.0 L404.0 401.4 L392.4 389.4 L392.4 385.0 L374.0 371.0 L359.0 359.4 Z" />
<path class="ld" d="M359.0 355.0 L362.0 356.6 L374.4 367.0 L394.0 361.4 L411.6 376.0 L394.0 385.0 L408.0 397.4 L438.0 388.6" />
<path class="ld" d="M374.4 367.0 L374.0 371.0" />
<path class="ld" d="M394.0 385.0 L392.4 389.4" />
<path class="ld" d="M394.0 361.4 L394.0 364.6 L404.0 373.0 L411.6 376.0" />
<path class="ld" d="M394.0 364.6 L393.6 383.0" />
<ellipse class="ld" cx="372.4" cy="356.2" rx="5.6" ry="2.8" transform="rotate(-8 372.4 356.2)" />
<ellipse class="ld" cx="413.6" cy="392.2" rx="6.0" ry="3.0" transform="rotate(-8 413.6 392.2)" />
<path class="ld" d="M374.0 371.0 L362.0 374.0 L366.0 382.0" />
<path class="lw" d="M392.4 389.4 L392.4 393.4 L382.0 395.0 L368.0 392.0 L362.0 387.4 L357.0 391.0 L355.6 395.0 L356.0 404.0 L367.0 410.6 L390.0 410.2 L403.0 404.6 L404.0 401.4" />
<path class="ld" d="M355.6 395.0 L362.0 391.0 L370.0 395.0 L382.0 397.4 L394.0 395.0 L403.0 401.0" />
<path class="ld" d="M367.0 395.0 L367.0 410.6" />
<path class="ld" d="M382.0 397.4 L382.0 410.2" />
<path class="ld" d="M394.0 395.4 L394.4 408.6" />
<path class="ld" d="M365.0 375.0 L372.0 380.0 L372.4 391.0" />
<text x="340" y="434" font-family="'DejaVu Sans','Liberation Sans',sans-serif" font-size="21" fill="#1a1a1a" stroke="#1a1a1a" stroke-width="0.45" textLength="26.6" lengthAdjust="spacingAndGlyphs">x4</text>
<path class="lw" d="M53.0 408.2 L73.9 399.4 L79.0 400.2 L81.2 403.8 L77.6 417.4 L75.0 422.9 L67.3 424.0 L60.7 417.8 Z" />
<ellipse class="ld" cx="58.5" cy="408.6" rx="2.6" ry="2.0" transform="rotate(0 58.5 408.6)" />
<ellipse class="ld" cx="74.6" cy="403.8" rx="2.6" ry="2.0" transform="rotate(0 74.6 403.8)" />
<ellipse class="ld" cx="71.7" cy="420.7" rx="3.1" ry="2.0" transform="rotate(0 71.7 420.7)" />
<path class="ld" d="M53.0 408.2 L53.4 410.8 L60.7 420.0" />
<path class="lw" d="M66.2 423.6 L71.7 422.2 L212.5 453.0 L214.7 455.9 L212.5 459.6 L207.0 461.0 L67.3 428.8 L65.1 426.6 Z" />
<path class="ld" d="M65.8 426.6 L207.0 458.3 L213.6 456.6" />
<path class="lw" d="M56.3 453.0 L60.7 451.7 L211.4 455.9 L214.7 457.4 L213.6 461.0 L209.2 462.5 L60.7 458.8 L56.3 457.0 Z" />
<path class="ld" d="M57.0 457.0 L209.2 460.3 L214.0 458.8" />
<path class="lw" d="M30.6 458.8 L42.0 454.8 L55.2 454.4 L62.2 461.8 L48.6 470.6 L44.2 471.1 Z" />
<path class="ld" d="M30.6 458.8 L31.0 461.0 L44.2 472.4 L49.0 472.0 L62.2 463.2" />
<ellipse class="ld" cx="35.8" cy="458.8" rx="2.2" ry="1.5" transform="rotate(0 35.8 458.8)" />
<ellipse class="ld" cx="46.4" cy="466.9" rx="2.4" ry="1.8" transform="rotate(0 46.4 466.9)" />
<ellipse class="ld" cx="59.6" cy="454.8" rx="2.9" ry="2.0" transform="rotate(0 59.6 454.8)" />
<ellipse class="ld" cx="207.0" cy="453.7" rx="3.1" ry="2.0" transform="rotate(0 207.0 453.7)" />
<path class="ld" d="M190.5 450.0 L201.5 452.2 L200.8 454.4 L189.8 452.2 Z" />
<text x="116.6" y="484.4" font-family="'DejaVu Sans','Liberation Sans',sans-serif" font-size="13.5" fill="#1a1a1a" textLength="18.6" lengthAdjust="spacingAndGlyphs">x4</text>
<path class="lw" d="M282.7 483.6 L360.0 457.2 L412.8 499.2 L412.8 522.0 L330.7 544.1 L282.7 506.4 Z" />
<path class="ld" d="M282.7 483.6 L330.7 520.1 L412.8 499.2" />
<path class="ld" d="M330.7 520.1 L330.7 544.1" />
<path class="lw" d="M295.7 476.9 L360.0 459.6 L400.3 491.3 L400.3 496.1 L336.0 515.3 L295.7 481.7 Z" />
<path class="ld" d="M295.7 476.9 L336.0 510.0 L400.3 491.3" />
<path class="ld" d="M336.0 510.0 L336.0 515.3" />
<path class="ld" d="M302.9 476.9 L359.5 462.5 L393.6 490.3 L336.5 506.4 Z" />
<path class="ld" d="M306.0 478.3 L319.2 480.0 L322.8 487.2" />
<path class="ld" d="M359.5 463.9 L364.8 474.0 L370.8 476.9" />
<path class="ld" d="M391.2 490.3 L374.4 488.4 L370.8 495.6" />
<path class="ld" d="M336.5 505.2 L334.8 498.0 L326.4 495.6" />
<ellipse class="ld" cx="347.3" cy="484.8" rx="24.0" ry="12.5" transform="rotate(0 347.3 484.8)" />
<ellipse class="ld" cx="347.3" cy="484.3" rx="19.7" ry="10.1" transform="rotate(0 347.3 484.3)" />
<ellipse class="ld" cx="347.3" cy="483.6" rx="14.9" ry="7.7" transform="rotate(0 347.3 483.6)" />
<ellipse class="lw" cx="347.3" cy="481.7" rx="9.1" ry="4.3" transform="rotate(0 347.3 481.7)" />
<path class="lw" d="M338.2 481.7 L338.6 468.0 L356.4 468.0 L356.4 481.7" stroke="none"/>
<path class="ld" d="M338.2 481.7 L338.6 468.7" />
<path class="ld" d="M356.4 468.7 L356.4 481.7" />
<ellipse class="lw" cx="347.5" cy="468.2" rx="8.9" ry="3.6" transform="rotate(0 347.5 468.2)" />
<ellipse class="ld" cx="357.6" cy="466.8" rx="4.3" ry="2.6" transform="rotate(0 357.6 466.8)" />
<ellipse class="ld" cx="357.6" cy="466.8" rx="2.4" ry="1.4" transform="rotate(0 357.6 466.8)" />
<ellipse class="ld" cx="337.2" cy="501.6" rx="4.8" ry="2.9" transform="rotate(0 337.2 501.6)" />
<ellipse class="ld" cx="337.2" cy="501.6" rx="2.6" ry="1.4" transform="rotate(0 337.2 501.6)" />
<text x="352.8" y="555.6" font-family="'DejaVu Sans','Liberation Sans',sans-serif" font-size="22.2" fill="#1a1a1a" stroke="#1a1a1a" stroke-width="0.45" textLength="27.4" lengthAdjust="spacingAndGlyphs">x4</text>
</g>
<g id="fitting" fill="none" stroke="#2a2a2a" stroke-width="1.1" stroke-linejoin="round" stroke-linecap="round">
<path d="M684.8 677.5 L838.4 663.2 L842.8 661.6 L850.5 662.8 L854.4 666 L852.7 670.4 L847.6 672.2 L846.5 677.5 L853.8 683.4 L862.6 690.7 C865.8 692.8 875.4 697.8 882.0 703.0 C888.6 708.2 895.7 715.5 902.0 722.0 C908.3 728.5 914.3 734.7 920.0 742.0 C925.7 749.3 930.7 757.2 936.0 766.0 C941.3 774.8 946.8 784.7 951.6 795.0 C956.4 805.3 961.1 815.8 965.0 828.0 C968.9 840.2 972.6 856.3 975.0 868.0 C977.4 879.7 978.8 893.0 979.6 898.0 L986.8 911.8 L986.8 922.8 L967 933.8 L950.5 930.5 L950.5 922.8 L944 920 L937.5 928 L917.5 921.5 L917.5 905.2 L887.8 894.2 L711.6 848.3 Z" fill="#fff"/>
<path d="M851.0 686.0 C854.5 688.5 864.8 695.0 872.0 701.0 C879.2 707.0 887.3 714.8 894.0 722.0 C900.7 729.2 906.2 736.0 912.0 744.0 C917.8 752.0 923.7 761.0 929.0 770.0 C934.3 779.0 939.2 787.7 944.0 798.0 C948.8 808.3 954.0 820.0 958.0 832.0 C962.0 844.0 965.7 859.2 968.0 870.0 C970.3 880.8 971.3 892.5 972.0 897.0"/>
<path d="M684.8 677.5 L690.0 673.5 L846.0 659.0" />
<path d="M690.0 673.5 L708.6 675.0 L707.5 696.0 L703.0 696.5" />
<path d="M684.8 677.5 L702.4 675.6 L703.0 696.5" />
<path d="M687.6 678.0 L713.6 846.0" />
<path d="M708.6 675.0 L831.8 664.5 L834.0 680.0 L826.0 684.4 L818.0 685.0" />
<path d="M711.0 680.0 L714.4 692.0 L730.0 690.6 L731.0 688.4 L715.5 689.6" />
<path d="M763.6 684.4 Q763.6 683.0 765.0 682.9 L782.0 681.3 Q783.4 681.2 783.4 682.6 L783.4 683.2 Q783.4 684.6 782.0 684.7 L765.0 686.3 Q763.6 686.4 763.6 685.0 Z" />
<circle cx="773" cy="676.6" r="1.3"/>
<path d="M712.6 700.2 Q711.9 697.3 714.9 697.0 L806.8 688.8 Q809.8 688.5 811.6 690.9 L812.8 692.7 Q814.6 695.1 813.0 697.7 L776.2 758.4 Q774.6 761.0 771.8 759.9 L724.4 741.6 Q721.6 740.5 720.9 737.6 Z" />
<path d="M714.4 700.4 L723.4 739.0 L774.0 759.0" />
<path d="M845.0 699.4 Q842.8 697.3 841.2 699.9 L808.1 754.1 Q806.5 756.7 807.8 759.4 L808.5 760.6 Q809.8 763.3 812.8 763.1 L903.0 757.4 Q906.0 757.2 903.8 755.1 Z" />
<path d="M844.4 702.4 Q843.0 701.0 842.0 702.7 L810.6 754.8 Q809.6 756.5 810.5 758.3 L810.6 758.7 Q811.5 760.5 813.5 760.4 L897.0 755.7 Q899.0 755.6 897.6 754.2 Z" />
<path d="M819.6 776.4 Q817.5 774.3 820.5 774.2 L880.4 773.3 Q883.4 773.2 885.0 775.7 L887.3 779.5 Q888.9 782.0 889.1 785.0 L889.8 798.8 Q890.0 801.8 887.3 803.1 L886.1 803.8 Q883.4 805.1 880.6 804.1 L832.4 787.4 Q829.6 786.4 827.5 784.3 Z" />
<path d="M843.0 806.6 Q841.6 804.0 844.5 804.8 L939.9 831.8 Q942.8 832.6 944.6 835.0 L947.6 839.0 Q949.4 841.4 949.7 844.4 L953.5 886.8 Q953.8 889.8 951.3 891.5 L949.7 892.5 Q947.2 894.2 944.3 893.3 L881.9 873.1 Q879.0 872.2 877.6 869.6 Z" />
<path d="M845.0 809.0 L940.0 836.0 L946.0 843.0" />
<path d="M885.8 766.0 Q885.6 764.4 887.2 764.6 L897.0 766.2 Q898.6 766.4 898.8 768.0 L899.0 769.2 Q899.2 770.8 897.6 770.6 L887.8 769.2 Q886.2 769.0 886.0 767.4 Z" fill="#fff"/>
<path d="M890.2 782.6 Q890.0 781.0 891.6 781.2 L901.4 782.8 Q903.0 783.0 903.2 784.6 L903.4 785.8 Q903.6 787.4 902.0 787.2 L892.2 785.8 Q890.6 785.6 890.4 784.0 Z" fill="#fff"/>
<path d="M892.4 799.0 Q892.2 797.4 893.8 797.6 L903.6 799.2 Q905.2 799.4 905.4 801.0 L905.6 802.2 Q905.8 803.8 904.2 803.6 L894.4 802.2 Q892.8 802.0 892.6 800.4 Z" fill="#fff"/>
<path d="M892.4 816.6 Q892.2 815.0 893.8 815.2 L903.6 816.8 Q905.2 817.0 905.4 818.6 L905.6 819.8 Q905.8 821.4 904.2 821.2 L894.4 819.8 Q892.8 819.6 892.6 818.0 Z" fill="#fff"/>
<path d="M847.0 804.2 Q847.0 803.0 848.2 803.3 L857.8 805.7 Q859.0 806.0 859.0 807.2 L859.0 808.4 Q859.0 809.6 857.8 809.3 L848.2 806.9 Q847.0 806.6 847.0 805.4 Z" fill="#fff"/>
<circle cx="897.6" cy="773.6" r="1.2"/>
<circle cx="900" cy="792.6" r="1.2"/>
<circle cx="902" cy="810" r="1.2"/>
<path d="M887.8 899.6 L917.5 911.8" />
<path d="M917.5 905.2 L925.0 900.6 L944.0 904.4 L945.0 915.6 L937.5 921.4 L937.5 928.0" />
<path d="M917.5 912.0 L937.5 918.6" />
<path d="M925.0 900.6 L925.6 908.0" />
<ellipse cx="931.6" cy="910.4" rx="5" ry="3.2" transform="rotate(-20 931.6 910.4)"/><ellipse cx="931.2" cy="911.2" rx="3" ry="1.9" transform="rotate(-20 931.2 911.2)"/>
<path d="M950.5 922.8 L958.6 914.6 L979.0 918.0 L986.8 911.8" />
<path d="M979.0 918.0 L978.0 928.0 L967.0 933.8" />
<path d="M950.5 923.4 L967.0 926.8 L967.0 933.8" />
<ellipse cx="963.6" cy="919.6" rx="5.4" ry="3.2" transform="rotate(-18 963.6 919.6)"/><ellipse cx="963.2" cy="920.4" rx="3.2" ry="1.9" transform="rotate(-18 963.2 920.4)"/>
<path d="M944.0 904.4 L950.5 909.0 L958.6 914.6" />
<path d="M962.0 838.0 C963.0 842.0 966.3 854.3 968.0 862.0 C969.7 869.7 971.5 878.0 972.0 884.0 C972.5 890.0 971.8 894.3 971.0 898.0 C970.2 901.7 967.7 904.7 967.0 906.0"/>
<path d="M965.0 837.0 C966.2 841.2 970.2 854.2 972.0 862.0 C973.8 869.8 975.4 877.8 976.0 884.0 C976.6 890.2 976.2 895.0 975.4 899.0 C974.6 903.0 971.7 906.5 971.0 908.0"/>
<path d="M608.4 744 L764.7 729.2 L768 727 L774.6 729.2 L778.1 733 L776.8 737 L772 739.2 L771.3 743.5 L776.8 744.6 C779.0 746.5 785.6 752.0 790.0 756.0 C794.4 760.0 798.2 763.8 803.2 768.8 C808.2 773.8 814.7 780.1 820.0 786.0 C825.3 791.9 828.8 796.2 835.0 804.0 C841.2 811.8 850.4 822.7 857.0 832.6 C863.6 842.5 869.5 852.8 874.6 863.4 C879.7 874.0 884.1 885.0 887.8 896.4 C891.5 907.8 894.6 920.7 896.6 931.6 C898.6 942.5 899.4 956.9 899.9 962.0 L903 964 L903.6 972.6 L911.4 970.4 L910.4 992 L886 984.6 L635.2 914.8 Z M633.8 768.4 Q633.0 765.0 636.5 764.7 L726.5 757.3 Q730.0 757.0 732.5 759.5 L733.5 760.5 Q736.0 763.0 734.2 766.0 L697.8 826.0 Q696.0 829.0 692.7 827.7 L646.3 809.3 Q643.0 808.0 642.2 804.6 Z M645.8 837.9 Q645.0 834.0 648.8 835.3 L682.2 846.7 Q686.0 848.0 686.2 852.0 L687.8 896.0 Q688.0 900.0 685.0 902.5 L685.0 902.5 Q682.0 905.0 678.1 904.0 L661.9 900.0 Q658.0 899.0 657.2 895.1 Z M767.2 769.1 Q764.7 766.6 762.8 769.5 L729.2 820.9 Q727.3 823.8 729.2 826.8 L730.9 829.6 Q732.8 832.6 736.3 832.4 L822.8 828.4 Q826.3 828.2 823.8 825.7 Z M736.8 846.0 Q735.0 843.6 738.0 843.5 L802.4 841.5 Q805.4 841.4 806.7 844.1 L807.3 845.3 Q808.6 848.0 809.0 851.0 L811.5 867.0 Q811.9 870.0 809.0 869.2 L742.9 850.8 Q740.0 850.0 738.2 847.6 Z M713.5 862.5 Q713.5 858.0 717.8 859.2 L859.3 899.6 Q863.6 900.8 866.3 904.4 L867.5 906.0 Q870.2 909.6 870.6 914.1 L874.2 949.1 Q874.6 953.6 871.7 957.0 L870.9 957.9 Q868.0 961.3 863.7 960.0 L724.3 918.3 Q720.0 917.0 717.6 913.2 L715.6 909.8 Q713.2 906.0 713.2 901.5 Z " fill="#fff" fill-rule="evenodd"/>
<path d="M635.4 768.0 L645.0 806.0 L696.0 826.6" />
<path d="M647.0 837.0 L660.0 897.0 L682.0 902.6" />
<path d="M729.6 825.0 L734.0 830.4 L822.0 826.6" />
<path d="M766.0 770.0 L731.0 823.6" />
<path d="M715.6 861.0 L715.4 905.0 L721.4 914.6 L867.0 958.8" />
<path d="M741.0 848.4 L810.0 867.6" />
<path d="M771.3 746.0 C773.9 748.3 782.2 755.5 787.0 760.0 C791.8 764.5 795.5 768.2 800.0 773.0 C804.5 777.8 809.5 783.3 814.0 789.0 C818.5 794.7 821.2 799.3 827.3 807.3 C833.4 815.3 843.6 826.9 850.4 837.0 C857.2 847.1 862.9 857.2 868.0 867.8 C873.1 878.4 877.5 889.4 881.2 900.8 C884.9 912.2 888.1 926.1 890.0 936.0 C891.9 945.9 892.0 956.0 892.4 960.0"/>
<path d="M608.4 744.0 L611.6 741.0 L700.0 732.6 L762.0 727.0" />
<path d="M700.0 732.6 L701.0 731.0 L756.0 726.0 L757.0 727.4" />
<path d="M774.0 744.6 C776.0 745.9 782.2 749.7 786.0 752.6 C789.8 755.5 795.2 760.4 797.0 762.0" stroke-width="2.4" stroke="#2e2e2e"/><path d="M774.0 744.6 C776.0 745.9 782.2 749.7 786.0 752.6 C789.8 755.5 795.2 760.4 797.0 762.0" stroke-width="1" stroke="#fff"/>
<ellipse cx="694" cy="744.8" rx="2.7" ry="3.1500000000000004" transform="rotate(-20 694 744.8)"/><circle cx="694.6" cy="745.3" r="1.5"/>
<ellipse cx="633.2" cy="843.2" rx="2.7" ry="3.1500000000000004" transform="rotate(-20 633.2 843.2)"/><circle cx="633.8000000000001" cy="843.7" r="1.5"/>
<ellipse cx="818.5" cy="842.5" rx="2.7" ry="3.1500000000000004" transform="rotate(-20 818.5 842.5)"/><circle cx="819.1" cy="843.0" r="1.5"/>
<ellipse cx="821.8" cy="860.1" rx="2.7" ry="3.1500000000000004" transform="rotate(-20 821.8 860.1)"/><circle cx="822.4" cy="860.6" r="1.5"/>
<ellipse cx="822.9" cy="877.7" rx="2.7" ry="3.1500000000000004" transform="rotate(-20 822.9 877.7)"/><circle cx="823.5" cy="878.2" r="1.5"/>
<ellipse cx="700" cy="906" rx="7.6" ry="8.6" transform="rotate(-30 700 906)"/><path d="M696.6,909.4 l3,1.4 l-0.4,-3 z"/>
<path d="M684.8 921.2 L697.6 924.6 L697.6 930.4 L684.8 927.0 Z" />
<path d="M686.4 923.0 L697.6 926.2" />
<path d="M850.4 967.9 L863.6 971.4 L863.6 977.4 L850.4 973.8 Z" />
<path d="M852.0 969.7 L863.6 973.0" />
<path d="M884.6 978.4 L897.4 981.8 L897.4 987.8 L884.6 984.4 Z" />
<path d="M886.2 980.2 L897.4 983.4" />
<path d="M751.0 868.6 L764.0 872.2 L763.6 876.0 L750.6 872.4 Z" fill="#fff"/>
<circle cx="776" cy="874.6" r="2.8" stroke="#111" stroke-width="1.3"/>
<path d="M889.6 936.0 C890.2 938.7 892.6 947.3 893.0 952.0 C893.4 956.7 892.7 960.7 892.0 964.0 C891.3 967.3 888.9 969.7 889.0 972.0 C889.1 974.3 892.0 977.0 892.6 978.0"/>
<path d="M903.6 972.6 L903.0 984.4 L910.4 992.0" />
<path d="M897.0 968.0 L897.6 978.6 L903.0 984.4" />
<path d="M714.7 769.0 Q714.6 768.0 715.6 767.9 L718.4 767.5 Q719.4 767.4 719.5 768.4 L721.9 785.6 Q722.0 786.6 721.0 786.9 L718.6 787.7 Q717.6 788.0 717.5 787.0 Z" />
<path d="M723.7 768.0 Q723.6 767.0 724.6 766.9 L726.6 766.7 Q727.6 766.6 727.7 767.6 L728.3 776.0 Q728.4 777.0 727.6 777.6 L725.8 779.0 Q725.0 779.6 724.9 778.6 Z" />
<path d="M711.0 775.6 L712.6 776.6" />
<path d="M767.0 778.0 L770.6 794.0 L777.6 793.0 L776.0 789.0 L772.0 789.6" />
<path d="M777.6 793.0 L778.6 826.4" />
<path d="M754.6 783.0 L756.0 825.0" />
<path d="M781.0 790.0 L782.0 826.4" />
<ellipse cx="778" cy="829.6" rx="8" ry="4.4"/>
<path d="M766,843.4 a13,7 0 0 0 25,0.4 M770,843 a9,4.6 0 0 0 17,0.3"/>
<path d="M760.0 853.2 L764.6 846.4 L777.0 849.6 L776.0 858.0" />
<path d="M792.0 843.0 L800.0 853.6 L808.0 856.6" />
</g>
<text x="771" y="982.8" font-family="'DejaVu Sans','Liberation Sans',sans-serif" font-weight="bold" font-size="19.5" fill="#111" textLength="25" lengthAdjust="spacingAndGlyphs">x2</text>
</svg>
</body></html>
